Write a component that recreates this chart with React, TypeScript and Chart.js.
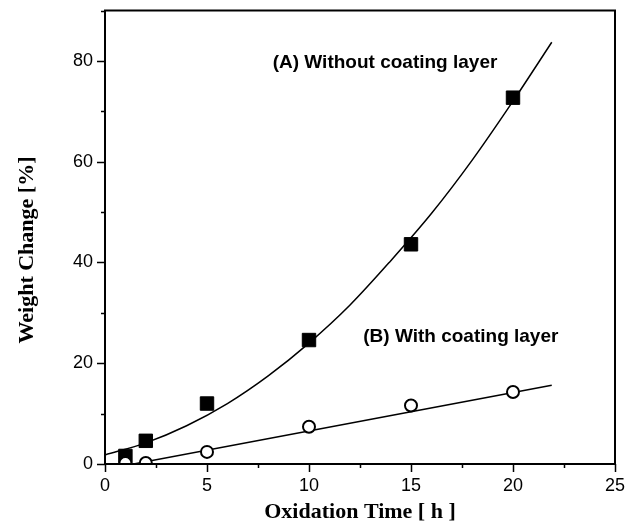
import React, { useEffect, useRef } from "react";
import { Chart, registerables } from "chart.js";

Chart.register(...registerables);

const timeHours = [1, 2, 5, 10, 15, 20];
const weightA = [1.6, 4.6, 12.0, 24.6, 43.6, 72.7];
const weightB = [0.2, 0.2, 2.4, 7.4, 11.6, 14.3];

const fitATime = [0, 2, 4, 6, 8, 10, 12, 14, 16, 18, 20, 21.9];
const fitAWeight = [1.8, 4.2, 7.6, 12.0, 17.5, 24.0, 31.5, 40.3, 49.7, 60.3, 72.0, 83.7];
const fitBTime = [1.4, 21.9];
const fitBWeight = [0, 15.65];

const yTickLabels = [0, 20, 40, 60, 80];
const xTickLabels = [0, 5, 10, 15, 20, 25];

const labelA = "(A) Without coating layer";
const labelB = "(B) With coating layer";
const labelAAnchor = { x: 8.22, y: 78.5 };
const labelBAnchor = { x: 12.66, y: 24.3 };

const xTitle = "Oxidation Time [ h ]";
const yTitle = "Weight Change [%]";

const framePlugin = {
  id: "frame",
  afterDraw(chart: any) {
    const { ctx, chartArea } = chart;
    const xs = chart.scales.x;
    const ys = chart.scales.y;
    ctx.save();
    ctx.strokeStyle = "#000";
    ctx.lineWidth = 2;
    ctx.strokeRect(chartArea.left, chartArea.top, chartArea.right - chartArea.left, chartArea.bottom - chartArea.top);
    ctx.lineWidth = 1.5;
    ctx.beginPath();
    for (let v = 0; v <= 90.001; v += 10) {
      const py = Math.round(ys.getPixelForValue(v)) + 0.5;
      const len = v % 20 === 0 ? 8 : 4;
      ctx.moveTo(chartArea.left, py);
      ctx.lineTo(chartArea.left - len, py);
    }
    for (let v = 0; v <= 25.001; v += 2.5) {
      const px = Math.round(xs.getPixelForValue(v)) + 0.5;
      const len = v % 5 === 0 ? 8 : 4;
      ctx.moveTo(px, chartArea.bottom);
      ctx.lineTo(px, chartArea.bottom + len);
    }
    ctx.stroke();

    ctx.fillStyle = "#000";
    ctx.font = "bold 19px 'Liberation Sans', Arial, sans-serif";
    ctx.textAlign = "left";
    ctx.textBaseline = "alphabetic";
    ctx.fillText(labelA, xs.getPixelForValue(labelAAnchor.x), ys.getPixelForValue(labelAAnchor.y));
    ctx.fillText(labelB, xs.getPixelForValue(labelBAnchor.x), ys.getPixelForValue(labelBAnchor.y));

    ctx.font = "bold 22px 'Liberation Serif', 'Times New Roman', serif";
    ctx.textAlign = "center";
    ctx.fillText(xTitle, (chartArea.left + chartArea.right) / 2, 518);
    ctx.save();
    ctx.translate(33, 250);
    ctx.rotate(-Math.PI / 2);
    ctx.fillText(yTitle, 0, 0);
    ctx.restore();
    ctx.restore();
  },
};

export default function App() {
  const ref = useRef<HTMLCanvasElement>(null);
  useEffect(() => {
    if (!ref.current) return;
    const chart = new Chart(ref.current, {
      type: "scatter",
      data: {
        datasets: [
          {
            data: fitATime.map((x, i) => ({ x, y: fitAWeight[i] })),
            showLine: true,
            borderColor: "#000",
            borderWidth: 1.5,
            pointRadius: 0,
            cubicInterpolationMode: "monotone",
            order: 4,
          },
          {
            data: fitBTime.map((x, i) => ({ x, y: fitBWeight[i] })),
            showLine: true,
            borderColor: "#000",
            borderWidth: 1.5,
            pointRadius: 0,
            order: 3,
          },
          {
            data: timeHours.map((x, i) => ({ x, y: weightA[i] })),
            pointStyle: "rect",
            pointRadius: 9.5,
            backgroundColor: "#000",
            borderColor: "#000",
            borderWidth: 1,
            clip: 0,
            order: 2,
          },
          {
            data: timeHours.map((x, i) => ({ x, y: weightB[i] })),
            pointStyle: "circle",
            pointRadius: 6,
            backgroundColor: "#fff",
            borderColor: "#000",
            borderWidth: 2,
            clip: 0,
            order: 1,
          },
        ] as any,
      },
      options: {
        responsive: false,
        animation: false,
        layout: { padding: { left: 0, top: 8, right: 22, bottom: 0 } },
        plugins: { legend: { display: false }, tooltip: { enabled: false } },
        scales: {
          x: {
            type: "linear",
            min: 0,
            max: 25,
            afterBuildTicks: (s: any) => {
              s.ticks = xTickLabels.map((v) => ({ value: v }));
            },
            afterFit: (s: any) => {
              s.height = 68;
              s.paddingLeft = 0;
              s.paddingRight = 0;
            },
            grid: { display: false, drawTicks: false, tickLength: 0 },
            border: { display: false },
            ticks: {
              padding: 11,
              color: "#000",
              font: { family: "'Liberation Sans', Arial, sans-serif", size: 18 },
            },
          },
          y: {
            type: "linear",
            min: 0,
            max: 90,
            afterBuildTicks: (s: any) => {
              s.ticks = yTickLabels.map((v) => ({ value: v }));
            },
            afterFit: (s: any) => {
              s.width = 105;
              s.paddingTop = 0;
              s.paddingBottom = 0;
            },
            grid: { display: false, drawTicks: false, tickLength: 0 },
            border: { display: false },
            ticks: {
              padding: 12,
              color: "#000",
              font: { family: "'Liberation Sans', Arial, sans-serif", size: 18 },
            },
          },
        },
      },
      plugins: [framePlugin],
    });
    return () => chart.destroy();
  }, []);
  return (
    <div style={{ position: "absolute", left: 0, top: 0, width: 637, height: 532, background: "#fff" }}>
      <canvas ref={ref} width={637} height={532} />
    </div>
  );
}
